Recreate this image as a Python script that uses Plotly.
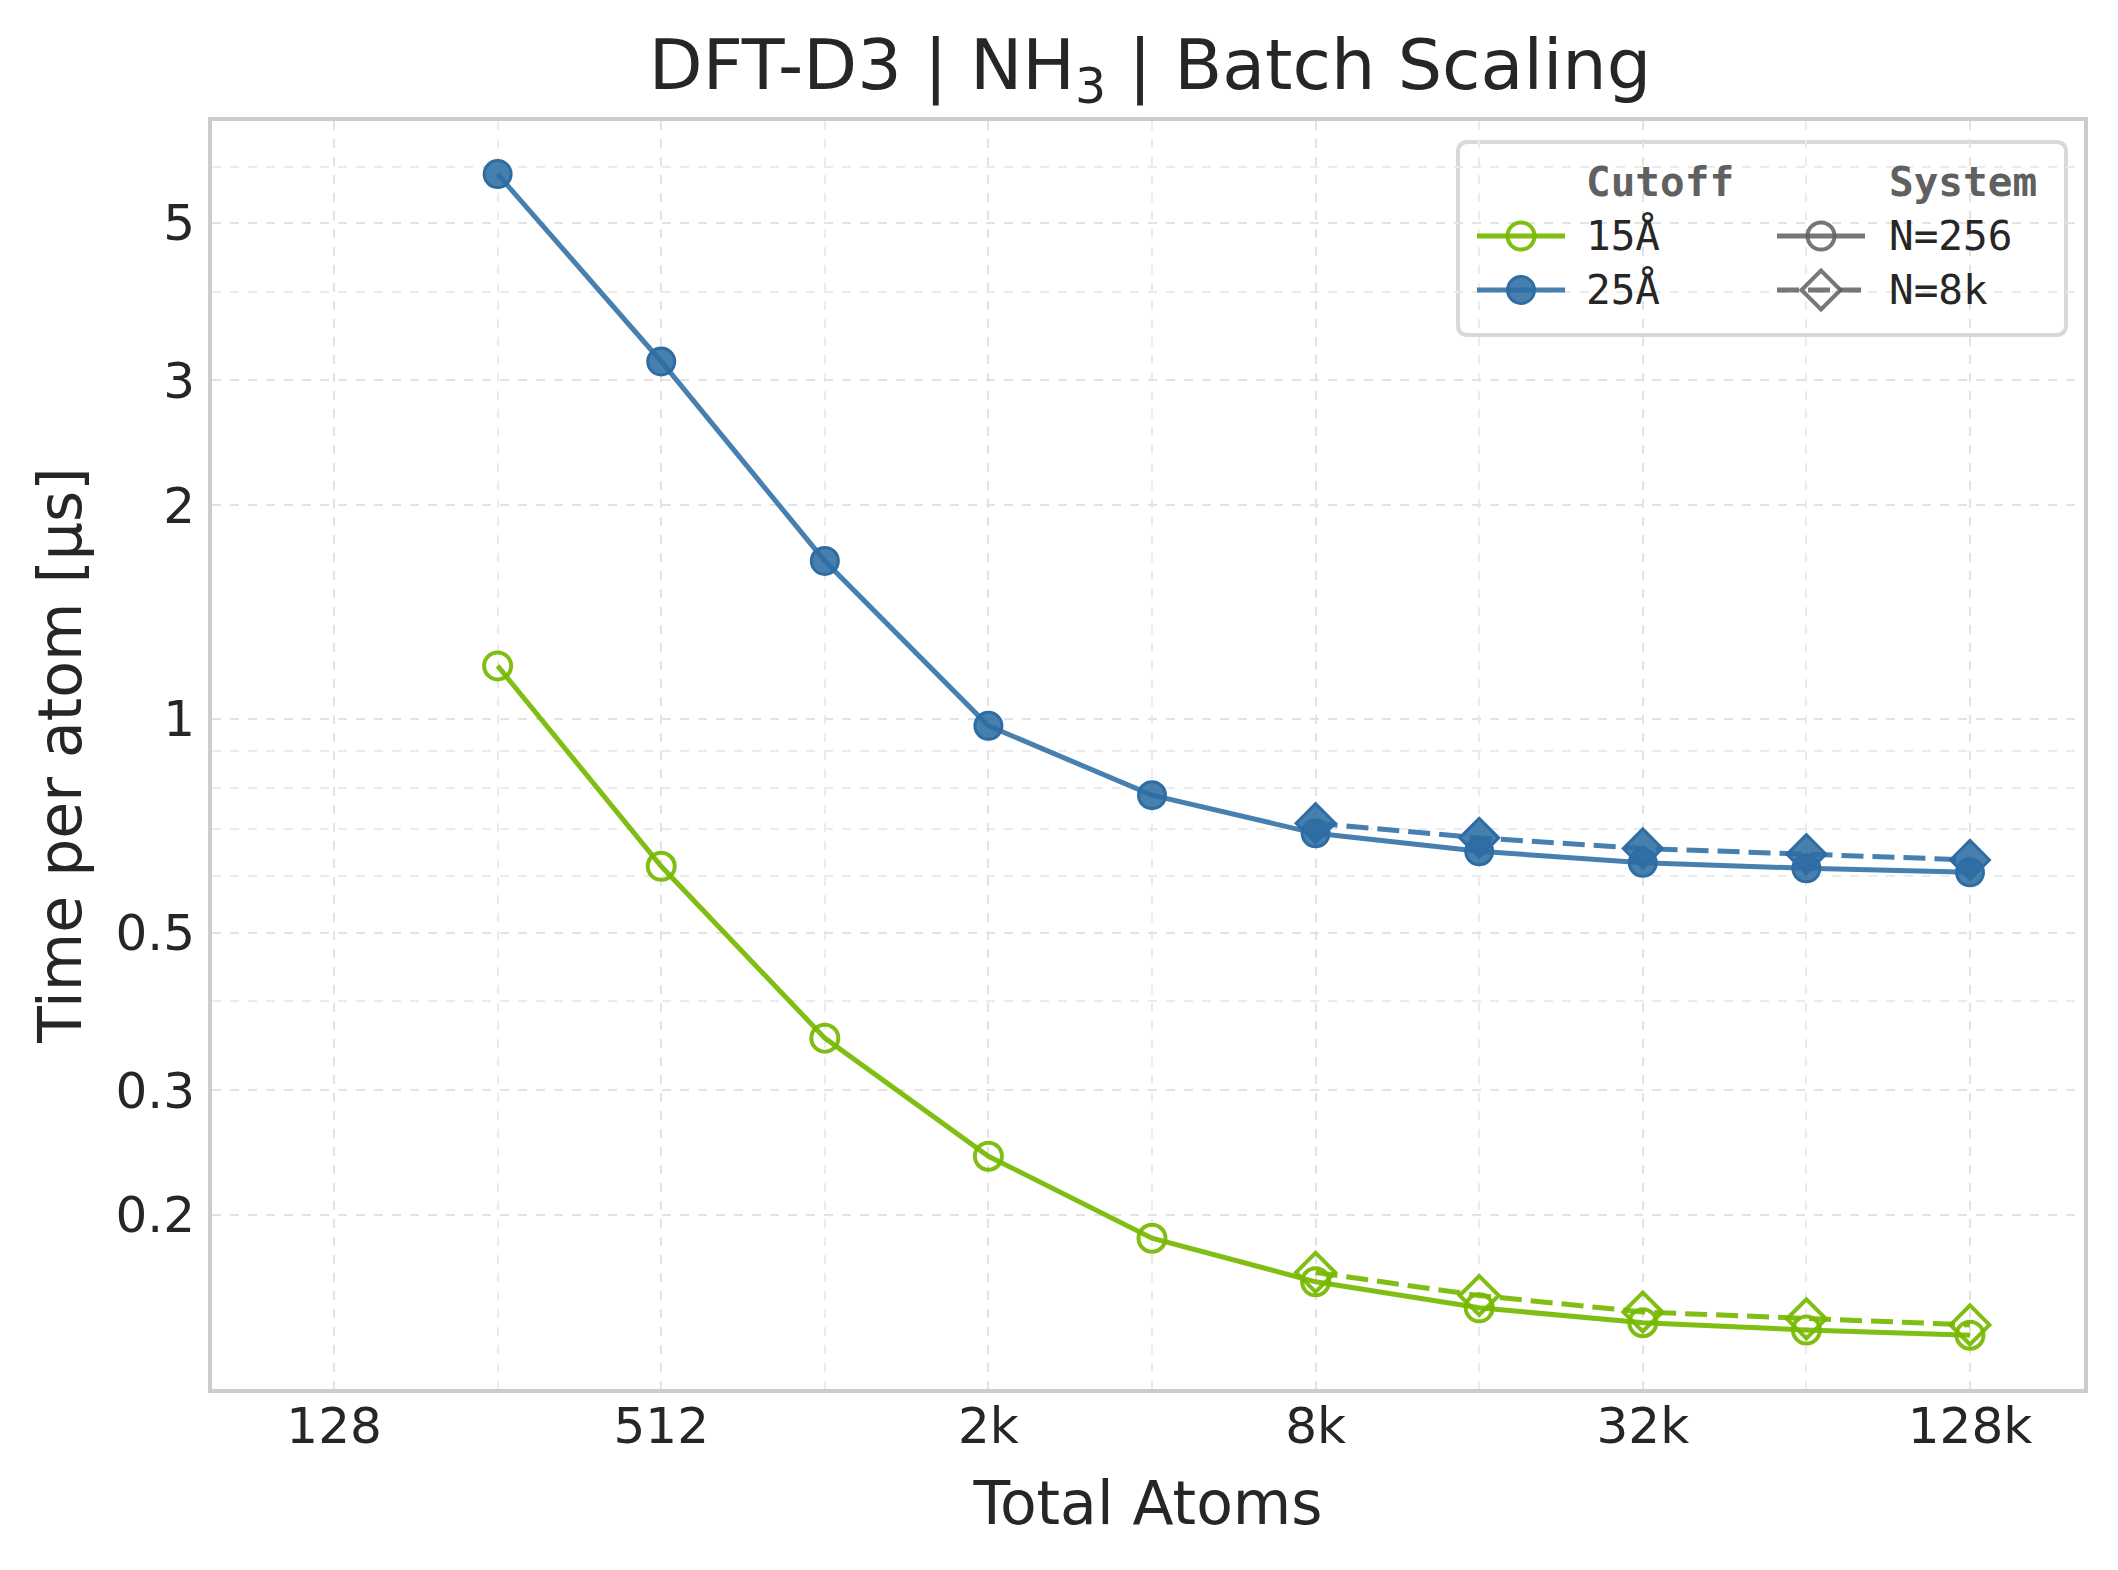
import plotly.graph_objects as go

# ---------------- data ----------------
atoms = [256, 512, 1024, 2048, 4096, 8192, 16384, 32768, 65536, 131072]
atoms_n8k = [8192, 16384, 32768, 65536, 131072]
t25_n256 = [5.86, 3.19, 1.67, 0.978, 0.781, 0.690, 0.651, 0.627, 0.616, 0.608]
t25_n8k = [0.713, 0.680, 0.657, 0.645, 0.633]
t15_n256 = [1.188, 0.620, 0.355, 0.242, 0.1855, 0.161, 0.148, 0.141, 0.1377, 0.1354]
t15_n8k = [0.166, 0.154, 0.146, 0.1428, 0.140]

x_tickvals = [128, 512, 2048, 8192, 32768, 131072]
x_ticktext = ["128", "512", "2k", "8k", "32k", "128k"]
x_minor = [256, 1024, 4096, 16384, 65536]
y_tickvals = [0.2, 0.3, 0.5, 1, 2, 3, 5]
y_ticktext = ["0.2", "0.3", "0.5", "1", "2", "3", "5"]
y_minor = [0.4, 0.6, 0.7, 0.8, 0.9, 4, 6, 7, 8, 9]

cutoff_labels = ["15Å", "25Å"]
system_labels = ["N=256", "N=8k"]

# ---------------- style / layout (page pixel coordinates) ----------------
W, H = 2118, 1570
OFF = 8                      # default page body margin
FW, FH = W - 2 * OFF, H - 2 * OFF
L, R, T, B = 212, 2084, 121, 1389
GREEN = "rgba(118,185,0,0.92)"
BLUE = "rgba(46,109,164,0.88)"
BLUE_EDGE = "rgba(46,109,164,1)"
GREY = "rgba(95,95,95,0.85)"
TXT = "#262626"
LW = 5
DASH = "22px,9px"
FONT = "DejaVu Sans"
MONO = "DejaVu Sans Mono"
CIRC, DIAM = 27, 30


def px_x(px):
    return (px - L) / (R - L)


def px_y(py):
    return 1 - (py - T) / (B - T)


fig = go.Figure()

style_15 = dict(line=dict(color=GREEN, width=LW),
                marker=dict(symbol="circle-open", size=CIRC, color=GREEN, line=dict(width=4, color=GREEN)))
style_15d = dict(line=dict(color=GREEN, width=LW, dash=DASH),
                 marker=dict(symbol="diamond-open", size=DIAM, color=GREEN, line=dict(width=4, color=GREEN)))
style_25 = dict(line=dict(color=BLUE, width=LW),
                marker=dict(symbol="circle", size=CIRC, color=BLUE, line=dict(width=3, color=BLUE_EDGE)))
style_25d = dict(line=dict(color=BLUE, width=LW, dash=DASH),
                 marker=dict(symbol="diamond", size=DIAM, color=BLUE, line=dict(width=3, color=BLUE_EDGE)))
style_g = dict(line=dict(color=GREY, width=LW),
               marker=dict(symbol="circle-open", size=CIRC, color=GREY, line=dict(width=4, color=GREY)))
style_gd = dict(line=dict(color=GREY, width=LW, dash=DASH),
                marker=dict(symbol="diamond-open", size=DIAM, color=GREY, line=dict(width=4, color=GREY)))

fig.add_trace(go.Scatter(x=atoms, y=t15_n256, mode="lines+markers", name="15Å, N=256", **style_15))
fig.add_trace(go.Scatter(x=atoms_n8k, y=t15_n8k, mode="lines+markers", name="15Å, N=8k", **style_15d))
fig.add_trace(go.Scatter(x=atoms, y=t25_n256, mode="lines+markers", name="25Å, N=256", **style_25))
fig.add_trace(go.Scatter(x=atoms_n8k, y=t25_n8k, mode="lines+markers", name="25Å, N=8k", **style_25d))

# ---------------- legend (drawn on a pixel-space overlay axis) ----------------
bx0, bx1, by0, by1, rad = 1458, 2066, 142, 335, 10
row_y = [236, 290]
title_y = 182
col1 = dict(h0=1477, h1=1565, m=1521, t=1584)
col2 = dict(h0=1777, h1=1865, m=1821, t=1887)


def rounded_path(x0, y0, x1, y1, r):
    X, Y = px_x, px_y
    p = f"M{X(x0 + r)},{Y(y0)} L{X(x1 - r)},{Y(y0)} Q{X(x1)},{Y(y0)} {X(x1)},{Y(y0 + r)} "
    p += f"L{X(x1)},{Y(y1 - r)} Q{X(x1)},{Y(y1)} {X(x1 - r)},{Y(y1)} "
    p += f"L{X(x0 + r)},{Y(y1)} Q{X(x0)},{Y(y1)} {X(x0)},{Y(y1 - r)} "
    p += f"L{X(x0)},{Y(y0 + r)} Q{X(x0)},{Y(y0)} {X(x0 + r)},{Y(y0)} Z"
    return p


fig.add_shape(type="path", xref="paper", yref="paper", path=rounded_path(bx0, by0, bx1, by1, rad),
              fillcolor="rgba(255,255,255,0.8)", line=dict(color="#d9d9d9", width=4), layer="between")

for col, styles, labels in [(col1, [style_15, style_25], cutoff_labels),
                            (col2, [style_g, style_gd], system_labels)]:
    for yy, st, lab in zip(row_y, styles, labels):
        fig.add_trace(go.Scatter(x=[col["h0"], col["h1"]], y=[yy, yy], mode="lines", line=st["line"],
                                 xaxis="x2", yaxis="y2", showlegend=False, hoverinfo="skip"))
        fig.add_trace(go.Scatter(x=[col["m"]], y=[yy], mode="markers", marker=st["marker"],
                                 xaxis="x2", yaxis="y2", showlegend=False, hoverinfo="skip"))
        fig.add_annotation(text=lab, xref="paper", yref="paper", x=px_x(col["t"]), y=px_y(yy),
                           xanchor="left", yanchor="middle", showarrow=False,
                           font=dict(family=MONO, size=41, color=TXT))

fig.add_annotation(text="<b>Cutoff</b>", xref="paper", yref="paper", x=px_x(col1["t"]), y=px_y(title_y),
                   xanchor="left", yanchor="middle", showarrow=False,
                   font=dict(family=MONO, size=41, color="#606060"))
fig.add_annotation(text="<b>System</b>", xref="paper", yref="paper", x=px_x(col2["t"]), y=px_y(title_y),
                   xanchor="left", yanchor="middle", showarrow=False,
                   font=dict(family=MONO, size=41, color="#606060"))

# ---------------- axes ----------------
grid = dict(showgrid=True, gridcolor="#e3e3e3", griddash="dash", gridwidth=2)
minor_grid = dict(showgrid=True, gridcolor="#ebebeb", griddash="dash", gridwidth=2, ticks="")

fig.update_layout(
    xaxis=dict(
        type="log", range=[6.254 * 0.30103, 17.697 * 0.30103],
        tickmode="array", tickvals=x_tickvals, ticktext=x_ticktext,
        minor=dict(tickmode="array", tickvals=x_minor, **minor_grid),
        **grid,
        showline=True, linecolor="#cccccc", linewidth=4, mirror=True,
        ticks="", ticklen=0, ticklabelstandoff=-10,
        tickfont=dict(family=FONT, size=50, color=TXT),
        title=dict(text="Total Atoms", font=dict(family=FONT, size=60, color=TXT), standoff=29),
        zeroline=False,
    ),
    yaxis=dict(
        type="log", range=[-0.9442, 0.8427],
        tickmode="array", tickvals=y_tickvals, ticktext=y_ticktext,
        minor=dict(tickmode="array", tickvals=y_minor, **minor_grid),
        **grid,
        showline=True, linecolor="#cccccc", linewidth=4, mirror=True,
        ticks="", ticklen=0, ticklabelstandoff=3,
        tickfont=dict(family=FONT, size=50, color=TXT),
        title=dict(text="Time per atom [µs]", font=dict(family=FONT, size=60, color=TXT), standoff=15),
        zeroline=False,
    ),
    xaxis2=dict(overlaying="x", anchor="y2", range=[L, R], visible=False, fixedrange=True),
    yaxis2=dict(overlaying="y", anchor="x2", range=[B, T], visible=False, fixedrange=True),
    width=FW, height=FH,
    margin=dict(l=L - OFF, r=OFF + FW - R, t=T - OFF, b=OFF + FH - B),
    paper_bgcolor="white", plot_bgcolor="white",
    font=dict(family=FONT, color=TXT),
    title=dict(text="DFT-D3 | NH<sub>3</sub> | Batch Scaling", x=px_x(1150), xref="paper", xanchor="center",
               y=1 - (64 - OFF) / FH, yref="container", yanchor="middle",
               font=dict(family=FONT, size=70, color=TXT)),
    showlegend=False,
)

fig.write_html("out.html")
